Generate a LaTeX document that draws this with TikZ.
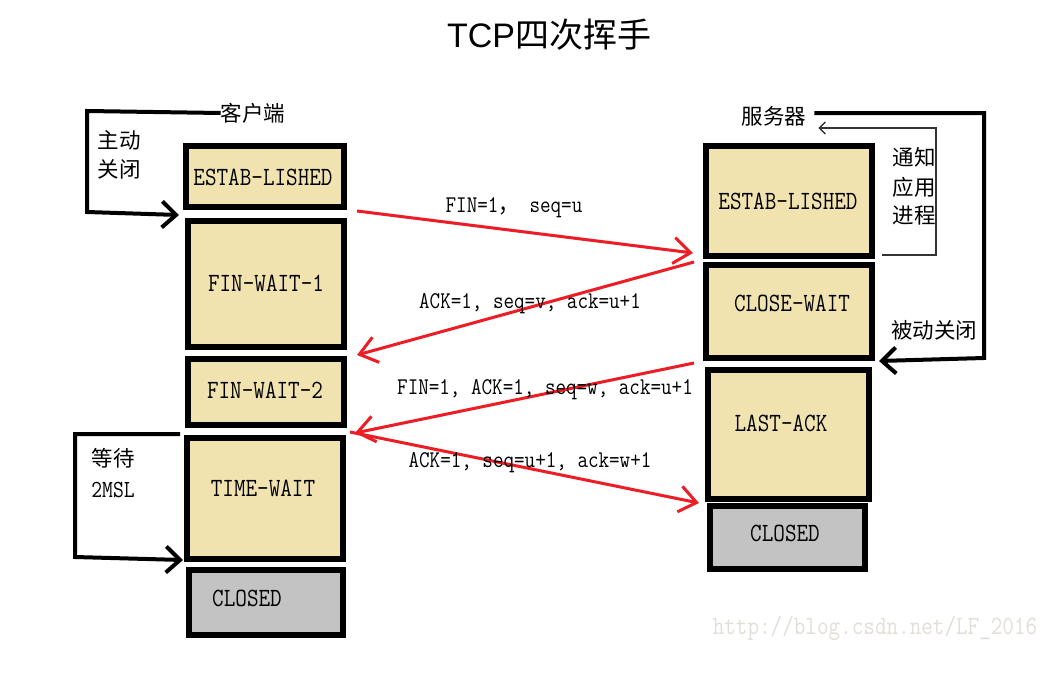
\documentclass[tikz,border=0pt]{standalone}
\usepackage{fontspec}
\usepackage{graphicx}
\newfontfamily\cjk{Noto Sans CJK SC}
\newfontfamily\titlesans{Liberation Sans}
\usetikzlibrary{arrows.meta,calc}
\definecolor{beige}{HTML}{F0E3B0}
\definecolor{grayfill}{HTML}{C3C3C3}
\definecolor{redline}{HTML}{EE1C25}
\definecolor{wm}{HTML}{E2DFD8}
\newcommand\tallt[1]{\scalebox{1}[1.17]{#1}}
\begin{document}
\begin{tikzpicture}[x=1pt,y=-1pt,
  statebox/.style={draw=black,line width=6pt,fill=beige,inner sep=0pt},
  closedbox/.style={statebox,fill=grayfill},
  boxtext/.style={font=\ttfamily\fontsize{22.5}{24}\selectfont,inner sep=0pt},
  msgtext/.style={font=\ttfamily\fontsize{20.5}{22}\selectfont,inner sep=0pt},
  cn/.style={font=\cjk\fontsize{21.5}{23}\selectfont,inner sep=0pt},
  msg/.style={draw=redline,line width=3pt,-{Straight Barb[length=17pt,width=26pt,line width=3pt]}},
  bracket/.style={draw=black,line width=4pt,-{Straight Barb[length=14pt,width=26pt,line width=4pt]}},
  thinbracket/.style={draw=black!80,line width=1.3pt,-{Straight Barb[length=6pt,width=12pt,line width=1.3pt]}}
]
\useasboundingbox (0,0) rectangle (1051,680);
\fill[white] (0,0) rectangle (1051,680);

% title
\node[inner sep=0pt] (title) at (549,35) {\fontsize{34}{36}\selectfont\titlesans TCP\cjk 四次挥手};

% left column
\node[statebox,minimum width=158pt,minimum height=61pt] (l1) at (265,176.5) {};
\node[statebox,minimum width=156pt,minimum height=126pt] (l2) at (266,284) {};
\node[statebox,minimum width=156pt,minimum height=66pt] (l3) at (266,392) {};
\node[statebox,minimum width=156pt,minimum height=121pt] (l4) at (265,498.5) {};
\node[closedbox,minimum width=154pt,minimum height=65pt] (l5) at (266,602.5) {};

\node[boxtext] (tl1) at (263,177) {\tallt{ESTAB-LISHED}};
\node[boxtext] (tl2) at (266,283) {\tallt{FIN-WAIT-1}};
\node[boxtext] (tl3) at (265,390) {\tallt{FIN-WAIT-2}};
\node[boxtext] (tl4) at (263,488) {\tallt{TIME-WAIT}};
\node[boxtext] (tl5) at (247,598) {\tallt{CLOSED}};

% right column
\node[statebox,minimum width=166pt,minimum height=110pt] (r1) at (789,201) {};
\node[statebox,minimum width=166pt,minimum height=93pt] (r2) at (789,311.5) {};
\node[statebox,minimum width=161pt,minimum height=129pt] (r3) at (788.5,434.5) {};
\node[closedbox,minimum width=155pt,minimum height=63pt] (r4) at (787.5,537.5) {};

\node[boxtext] (tr1) at (788,201) {\tallt{ESTAB-LISHED}};
\node[boxtext] (tr2) at (792,303) {\tallt{CLOSE-WAIT}};
\node[boxtext] (tr3) at (781,423) {\tallt{LAST-ACK}};
\node[boxtext] (tr4) at (785,533) {\tallt{CLOSED}};

% headers and side labels
\node[cn] (client) at (253,113) {客户端};
\node[cn] (server) at (774,116) {服务器};
\node[cn] (zd1) at (119,140) {主动};
\node[cn] (zd2) at (119,169) {关闭};
\node[cn] (tz1) at (914,157) {通知};
\node[cn] (tz2) at (914,187) {应用};
\node[cn] (tz3) at (914,215) {进程};
\node[cn] (bd) at (934,330) {被动关闭};
\node[cn] (dd) at (113,458) {等待};
\node[font=\ttfamily\fontsize{21}{23}\selectfont,inner sep=0pt] (msl) at (113,490) {\tallt{2MSL}};

% brackets
\coordinate (lb1) at (87,111);
\coordinate (lb2) at (87,212);
\draw[bracket] (client.west) -- (lb1) -- (lb2) -- ($(l1.south west)+(-4,5)$);

\coordinate (rb1) at (984,113);
\coordinate (rb2) at (984,358);
\draw[bracket] (server.east) ++(8,-3) -- (rb1) -- (rb2) -- ($(r2.south east)+(4,0)$);

\coordinate (tb1) at (882,255);
\coordinate (tb2) at (936,255);
\coordinate (tb3) at (936,128);
\draw[thinbracket] (tb1) -- (tb2) -- (tb3) -- ($(server.east)+(12,12)$);

\coordinate (wb0) at (180,434);
\coordinate (wb1) at (75,434);
\coordinate (wb2) at (75,557);
\draw[bracket] (wb0) -- (wb1) -- (wb2) -- ($(l4.south west)+(-1,-2)$);

% messages
\draw[msg] ($(l1.south east)+(10,1)$) -- ($(r1.south west)+(-10,-6)$);
\draw[msg] ($(r2.north west)+(-9,0)$) -- ($(l2.south east)+(10,5)$);
\draw[msg] ($(r2.south west)+(-9,2)$) -- ($(l3.south east)+(8,5)$);
\draw[msg] ($(l4.north east)+(4,-3)$) -- ($(r3.south west)+(-6,1)$);

\node[msgtext] (m1) at (514,208) {\tallt{FIN=1{\cjk ，}\ seq=u}};
\node[msgtext] (m2) at (530,304) {\tallt{ACK=1, seq=v, ack=u+1}};
\node[msgtext] (m3) at (545,390) {\tallt{FIN=1, ACK=1, seq=w, ack=u+1}};
\node[msgtext] (m4) at (530,463) {\tallt{ACK=1, seq=u+1, ack=w+1}};

% watermark
\node[font=\ttfamily\fontsize{22.5}{24}\selectfont,text=wm,inner sep=0pt] (wmk) at (875,628) {\tallt{http://blog.csdn.net/LF\_2016}};
\end{tikzpicture}
\end{document}
